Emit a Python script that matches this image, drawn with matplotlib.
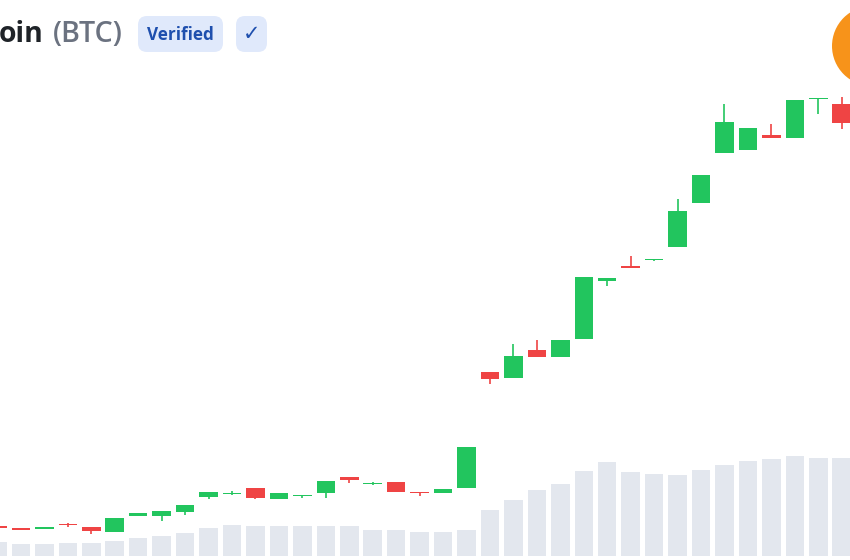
import matplotlib
matplotlib.use("Agg")
import matplotlib.pyplot as plt
from matplotlib.patches import Circle, FancyBboxPatch

opens  = [34,32.3,30.7,35.8,33.3,27.7,43.7,44.3,47.7,63,66,72,60.7,63.7,67.3,83,76.3,78,67.7,66.7,72.3,188,182,209.7,203.3,221,279.3,293.7,300,313,357.3,406.7,410,425.3,422,461,455.7]
closes = [32,30.3,33.3,35,29.3,41.7,46.7,49,55,67.7,67,61.7,66.7,65.3,78.7,79.7,77.3,68,67,71,112.7,181.3,204.3,203.3,219.7,283.3,282.3,292,300.7,348.7,385.3,438.3,431.7,422,459.7,462.3,436.7]
highs  = [34,32.3,33.3,37.3,33.3,41.7,46.7,49,55,67.7,69,72,66.7,65.3,78.7,83,78,78,68.3,71,112.7,188,215.7,220,219.7,283.3,282.3,304.3,300.7,361,385.3,456,431.7,435.7,459.7,462.3,463.3]
lows   = [32,30.3,30.7,33.3,26,27.7,43.7,39.3,45,61,65,61,60.7,62,62,77,75.5,68,64.3,66.7,72.3,176.3,182,203.3,203.3,221,273.7,292,299,313,357.3,406.7,410,422,422,445.7,431]
volumes = [13.3,12,12,12.3,12.3,14.7,17.7,19.7,22.7,27.7,30.3,30,30,30,29.7,29.3,26,25.7,24,23.3,26,46,56,65.3,71.3,84.7,93.7,83.7,81.3,81,86,91,94.7,97,99.3,97.7,97.3]
title_name = "oin"
title_ticker = "(BTC)"
badge_text = "Verified"
check_text = "✓"

GREEN, RED, VOL, ORANGE = "#22c55e", "#ef4444", "#e3e7ee", "#f7931a"
BADGE, BADGE_TEXT = "#e0e9fb", "#1e4fae"
STEP = 23.45
PAD_L = 2.5

fig = plt.figure(figsize=(8.5, 5.6), dpi=100, facecolor="white")
plt.rcParams["font.family"] = ["Open Sans", "DejaVu Sans"]

def make_axes():
    a = fig.add_axes([0, 0, 1, 1], facecolor="none")
    a.set_xlim(PAD_L / STEP, (850 + PAD_L) / STEP)
    a.set_axis_off()
    return a

# Volume
ax_vol = make_axes()
ax_vol.set_ylim(-4.3, 555.7)
xs = list(range(len(opens)))
ax_vol.bar(xs, volumes, width=18.5 / STEP, color=VOL, linewidth=0)

# Candles
ax = make_axes()
ax.set_ylim(0, 560)
colors = [GREEN if c >= o else RED for o, c in zip(opens, closes)]
ax.vlines(xs, lows, highs, colors=colors, linewidth=1.2)
ax.bar(xs, [abs(c - o) for o, c in zip(opens, closes)],
       bottom=[min(o, c) for o, c in zip(opens, closes)],
       width=18.5 / STEP, color=colors, linewidth=0)

# Header decoration in pixel coordinates
deco = fig.add_axes([0, 0, 1, 1], facecolor="none")
deco.set_xlim(0, 850)
deco.set_ylim(560, 0)
deco.set_axis_off()
deco.add_patch(Circle((872, 46), 40, color=ORANGE, linewidth=0))
for x0, x1 in [(138, 223), (236, 267)]:
    deco.add_patch(FancyBboxPatch((x0 + 8, 24), x1 - x0 - 16, 20,
                                  boxstyle="round,pad=8,rounding_size=9",
                                  facecolor=BADGE, edgecolor="none"))
deco.text(44, 35, title_name, ha="right", va="center", fontsize=20.4, fontweight="bold", color="#1f2328")
deco.text(53, 35, title_ticker, ha="left", va="center", fontsize=20.6, fontweight="semibold", color="#6b7280")
deco.text(180.5, 35.5, badge_text, ha="center", va="center", fontsize=12.3, fontweight="bold", color=BADGE_TEXT)
deco.text(251.5, 34.5, check_text, ha="center", va="center", fontsize=15, color=BADGE_TEXT,
          family=["DejaVu Sans"])

fig.savefig("out.png", dpi=100, facecolor="white")
